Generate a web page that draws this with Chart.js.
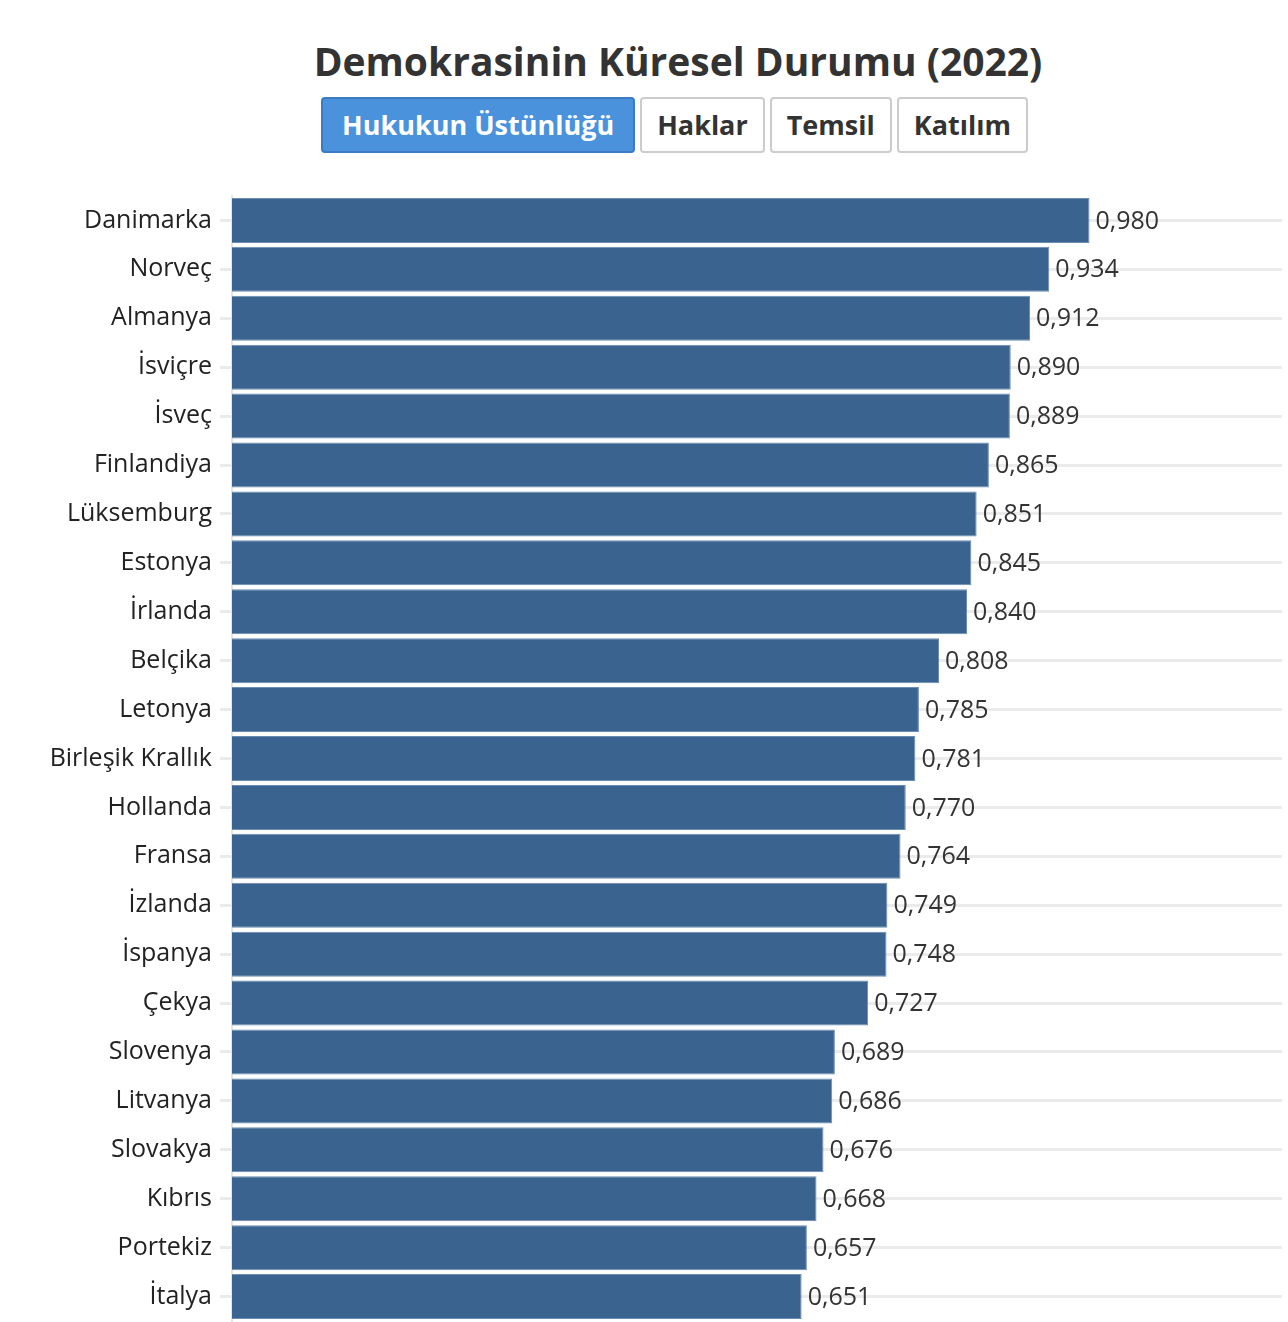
<!DOCTYPE html>
<html>
<head>
<meta charset="utf-8">
<script src="https://cdn.jsdelivr.net/npm/chart.js@4"></script>
<style>
  body { margin: 0; background: #fff; font-family: "Open Sans", sans-serif; }
  #wrap { position: relative; width: 1288px; height: 1322px; overflow: hidden; }
  h1 { position: absolute; top: 33px; left: 0; width: 1356px; margin: 0; text-align: center;
       font-size: 39px; font-weight: 700; color: #333; line-height: 56px; }
  #btns { position: absolute; top: 97px; left: 321px; display: flex; gap: 5px; }
  .btn { box-sizing: border-box; height: 56px; padding: 0 15px; border: 2px solid #ccc; border-radius: 4px;
         background: #fff; color: #333; font-family: "Open Sans", sans-serif; font-weight: 700; font-size: 27px;
         line-height: 52px; }
  .btn.active { background: #4a92dc; border-color: #3a7bc4; color: #fff; padding: 0 19px; }
  #box { position: absolute; top: 173px; left: 0; width: 1288px; height: 1171px; }
</style>
</head>
<body>
<div id="wrap">
  <h1>Demokrasinin Küresel Durumu (2022)</h1>
  <div id="btns">
    <div class="btn active">Hukukun Üstünlüğü</div>
    <div class="btn">Haklar</div>
    <div class="btn">Temsil</div>
    <div class="btn">Katılım</div>
  </div>
  <div id="box"><canvas id="barChart"></canvas></div>
</div>
<script>
var countries = ["Danimarka", "Norveç", "Almanya", "İsviçre", "İsveç", "Finlandiya", "Lüksemburg", "Estonya",
    "İrlanda", "Belçika", "Letonya", "Birleşik Krallık", "Hollanda", "Fransa", "İzlanda", "İspanya", "Çekya",
    "Slovenya", "Litvanya", "Slovakya", "Kıbrıs", "Portekiz", "İtalya"];
var scores = [0.980, 0.934, 0.912, 0.890, 0.889, 0.865, 0.851, 0.845, 0.840, 0.808, 0.785, 0.781, 0.770,
    0.764, 0.749, 0.748, 0.727, 0.689, 0.686, 0.676, 0.668, 0.657, 0.651];

// value labels at the end of each bar
var valueLabels = {
    id: "valueLabels",
    afterDatasetsDraw(chart) {
        let ctx = chart.ctx;
        let meta = chart.getDatasetMeta(0);
        ctx.save();
        ctx.font = "25px 'Open Sans'";
        ctx.fillStyle = "#333";
        ctx.textAlign = "left";
        ctx.textBaseline = "middle";
        meta.data.forEach((bar, i) => {
            ctx.fillText(scores[i].toFixed(3).replace(".", ","), bar.x + 6, bar.y + 1);
        });
        ctx.restore();
    }
};

new Chart(document.getElementById("barChart"), {
    type: "bar",
    data: {
        labels: countries,
        datasets: [{
            data: scores,
            backgroundColor: "#3a648f",
            borderColor: "#6a8db3",
            borderWidth: 1,
            categoryPercentage: 1,
            barPercentage: 0.92
        }]
    },
    options: {
        indexAxis: "y",
        responsive: true,
        maintainAspectRatio: false,
        animation: false,
        layout: { padding: { top: 0, right: 6, bottom: 0, left: 0 } },
        plugins: { legend: { display: false }, tooltip: { enabled: false } },
        scales: {
            x: { display: false, min: 0, max: 1.2 },
            y: {
                afterFit(scale) { scale.width = 232; },
                grid: { color: "#ebebeb", lineWidth: 3, tickLength: 12, offset: false },
                border: { color: "#e6e6e6", width: 2 },
                ticks: { color: "#222", font: { family: "Open Sans", size: 25 }, padding: 8, autoSkip: false }
            }
        }
    },
    plugins: [valueLabels]
});
</script>
</body>
</html>
